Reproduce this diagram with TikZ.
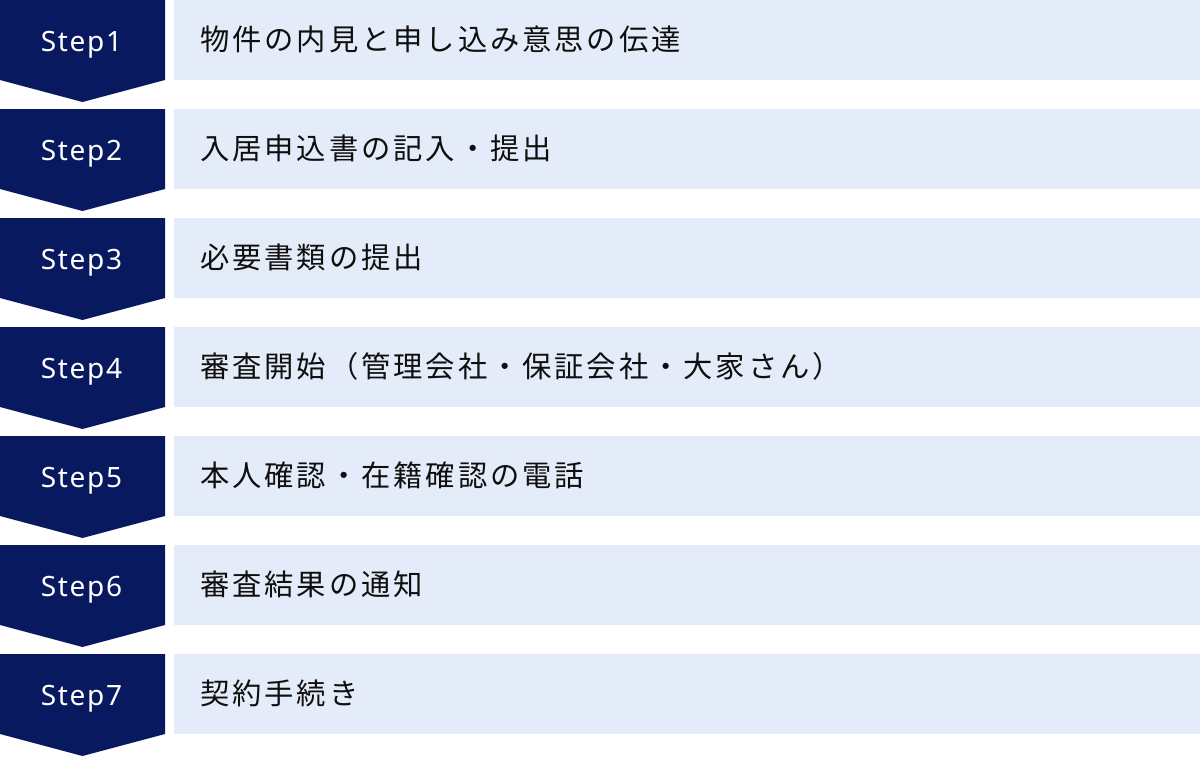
\documentclass[tikz,border=0pt]{standalone}
\usepackage{fontspec}
\setmainfont{Noto Sans}
\newfontfamily\stepfont{Noto Sans}[LetterSpace=6]
\newfontfamily\jpfont{Noto Sans CJK JP}[LetterSpace=10]
\definecolor{navy}{RGB}{8,25,96}
\definecolor{pale}{RGB}{229,236,249}
\definecolor{inkc}{RGB}{15,15,15}
\begin{document}
\begin{tikzpicture}[x=1pt,y=-1pt,
  stepshape/.style={fill=navy,draw=none},
  bar/.style={fill=pale,draw=none},
  steplabel/.style={text=white,font=\stepfont\fontsize{28}{34}\selectfont,anchor=base,inner sep=0pt},
  desc/.style={text=inkc,font=\jpfont\fontsize{29.3}{35}\selectfont,anchor=base west,inner sep=0pt}]
\useasboundingbox (0,0) rectangle (1200,756);
\foreach \i/\t in {1/物件の内見と申し込み意思の伝達,
                   2/入居申込書の記入・提出,
                   3/必要書類の提出,
                   4/審査開始（管理会社・保証会社・大家さん）,
                   5/本人確認・在籍確認の電話,
                   6/審査結果の通知,
                   7/契約手続き} {
  \pgfmathsetmacro\T{(\i-1)*109}
  \fill[stepshape] (0,\T) -- (165,\T) -- (165,\T+80) -- (82.5,\T+102) -- (0,\T+80) -- cycle;
  \fill[bar] (174,\T) rectangle (1200,\T+80);
  \node[steplabel] (s\i) at (81.5,\T+51.5) {Step\i};
  \node[desc] (d\i) at (200,\T+50) {\t};
}
\end{tikzpicture}
\end{document}
